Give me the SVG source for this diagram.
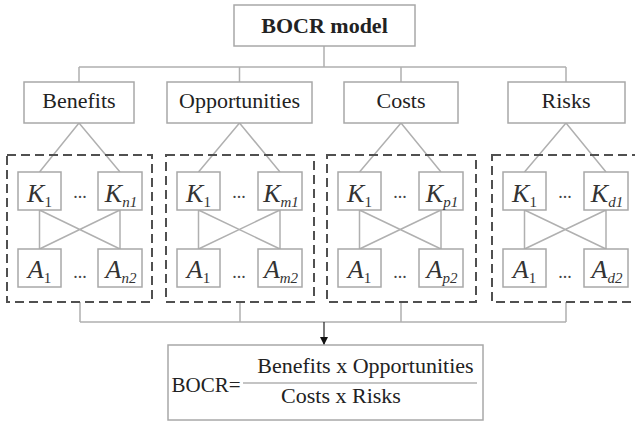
<svg xmlns="http://www.w3.org/2000/svg" width="635" height="422" viewBox="0 0 635 422">
<style>
.bx{fill:#fff;stroke:#a8a8a8;stroke-width:1.5}
.dash{fill:none;stroke:#505050;stroke-width:2;stroke-dasharray:9,5}
.ln{fill:none;stroke:#b0b0b0;stroke-width:1.5}
.t{font-family:"Liberation Serif",serif;fill:#222;text-anchor:middle}
.h{font-size:22px}
.b{font-size:22px;font-weight:bold}
.v{font-family:"Liberation Serif",serif;font-style:italic;font-size:26px;fill:#333;text-anchor:middle}
.s{font-size:15px}
.dots{font-family:"Liberation Serif",serif;font-size:18px;fill:#444;text-anchor:middle}
</style>
<defs>
<marker id="ah" viewBox="0 0 10 10" refX="10" refY="5" markerWidth="8" markerHeight="8" markerUnits="userSpaceOnUse" orient="auto">
<path d="M0,0 L10,5 L0,10 z" fill="#111"/>
</marker>
</defs>
<g id="connectors">
<path class="ln" d="M324,46 V67 M79,67 H566 M79,67 V82 M239.5,67 V82 M401,67 V82 M566,67 V82"/>
<path class="ln" d="M79,123 L39.5,172 M79,123 L120,172 M239.5,123 L198.5,172 M239.5,123 L280,172 M401,123 L359.5,172 M401,123 L441,172 M566,123 L524.5,172 M566,123 L606,172"/>
<path class="ln" d="M39.5,210 V249 M120,210 V249 M39.5,210 L120,249 M120,210 L39.5,249"/>
<path class="ln" d="M198.5,210 V249 M280,210 V249 M198.5,210 L280,249 M280,210 L198.5,249"/>
<path class="ln" d="M359.5,210 V249 M441,210 V249 M359.5,210 L441,249 M441,210 L359.5,249"/>
<path class="ln" d="M524.5,210 V249 M606,210 V249 M524.5,210 L606,249 M606,210 L524.5,249"/>
<path class="ln" d="M80,302 V322 M240,302 V322 M401,302 V322 M566,302 V322 M80,322 H566"/>
<path d="M324,322 V345" stroke="#222" stroke-width="1.2" fill="none" marker-end="url(#ah)"/>
</g>
<g id="bocr-model">
<rect class="bx" x="234" y="5" width="181" height="41"/>
<text class="t b" x="324.5" y="33">BOCR model</text>
</g>
<g id="benefits">
<rect class="bx" x="24" y="82" width="110" height="41"/>
<text class="t h" x="79" y="108">Benefits</text>
</g>
<g id="opportunities">
<rect class="bx" x="167" y="82" width="145" height="41"/>
<text class="t h" x="239.5" y="108">Opportunities</text>
</g>
<g id="costs">
<rect class="bx" x="344" y="82" width="114" height="41"/>
<text class="t h" x="401" y="108">Costs</text>
</g>
<g id="risks">
<rect class="bx" x="508" y="82" width="117" height="41"/>
<text class="t h" x="566" y="108">Risks</text>
</g>
<g id="group-benefits">
<rect class="dash" x="7" y="155" width="145" height="147"/>
<rect class="bx" x="18" y="172" width="43" height="38"/>
<text class="v" x="39.5" y="202">K<tspan class="s" font-style="normal" dy="5">1</tspan></text>
<text class="dots" x="80" y="198">...</text>
<rect class="bx" x="98" y="172" width="44" height="38"/>
<text class="v" x="121" y="202">K<tspan class="s" dy="5">n1</tspan></text>
<rect class="bx" x="18" y="249" width="43" height="38"/>
<text class="v" x="39.5" y="278">A<tspan class="s" font-style="normal" dy="5">1</tspan></text>
<text class="dots" x="80" y="278">...</text>
<rect class="bx" x="98" y="249" width="44" height="38"/>
<text class="v" x="121" y="278">A<tspan class="s" dy="5">n2</tspan></text>
</g>
<g id="group-opportunities">
<rect class="dash" x="166" y="155" width="148" height="147"/>
<rect class="bx" x="177" y="172" width="43" height="38"/>
<text class="v" x="198.5" y="202">K<tspan class="s" font-style="normal" dy="5">1</tspan></text>
<text class="dots" x="239" y="198">...</text>
<rect class="bx" x="258" y="172" width="44" height="38"/>
<text class="v" x="281" y="202">K<tspan class="s" dy="5">m1</tspan></text>
<rect class="bx" x="177" y="249" width="43" height="38"/>
<text class="v" x="198.5" y="278">A<tspan class="s" font-style="normal" dy="5">1</tspan></text>
<text class="dots" x="239" y="278">...</text>
<rect class="bx" x="258" y="249" width="44" height="38"/>
<text class="v" x="281" y="278">A<tspan class="s" dy="5">m2</tspan></text>
</g>
<g id="group-costs">
<rect class="dash" x="327" y="155" width="149" height="147"/>
<rect class="bx" x="338" y="172" width="43" height="38"/>
<text class="v" x="359.5" y="202">K<tspan class="s" font-style="normal" dy="5">1</tspan></text>
<text class="dots" x="400" y="198">...</text>
<rect class="bx" x="419" y="172" width="44" height="38"/>
<text class="v" x="442" y="202">K<tspan class="s" dy="5">p1</tspan></text>
<rect class="bx" x="338" y="249" width="43" height="38"/>
<text class="v" x="359.5" y="278">A<tspan class="s" font-style="normal" dy="5">1</tspan></text>
<text class="dots" x="400" y="278">...</text>
<rect class="bx" x="419" y="249" width="44" height="38"/>
<text class="v" x="442" y="278">A<tspan class="s" dy="5">p2</tspan></text>
</g>
<g id="group-risks">
<rect class="dash" x="492" y="155" width="150" height="147"/>
<rect class="bx" x="503" y="172" width="43" height="38"/>
<text class="v" x="524.5" y="202">K<tspan class="s" font-style="normal" dy="5">1</tspan></text>
<text class="dots" x="565" y="198">...</text>
<rect class="bx" x="584" y="172" width="44" height="38"/>
<text class="v" x="607" y="202">K<tspan class="s" dy="5">d1</tspan></text>
<rect class="bx" x="503" y="249" width="43" height="38"/>
<text class="v" x="524.5" y="278">A<tspan class="s" font-style="normal" dy="5">1</tspan></text>
<text class="dots" x="565" y="278">...</text>
<rect class="bx" x="584" y="249" width="44" height="38"/>
<text class="v" x="607" y="278">A<tspan class="s" dy="5">d2</tspan></text>
</g>
<g id="bocr-formula">
<rect class="bx" x="168" y="345" width="315" height="75"/>
<text class="t" x="206" y="392" font-size="21">BOCR=</text>
<line x1="243" y1="383" x2="477" y2="383" stroke="#b0b0b0" stroke-width="1.5"/>
<text class="t" x="365.5" y="373" font-size="22">Benefits x Opportunities</text>
<text class="t" x="341" y="403" font-size="22">Costs x Risks</text>
</g>
</svg>
